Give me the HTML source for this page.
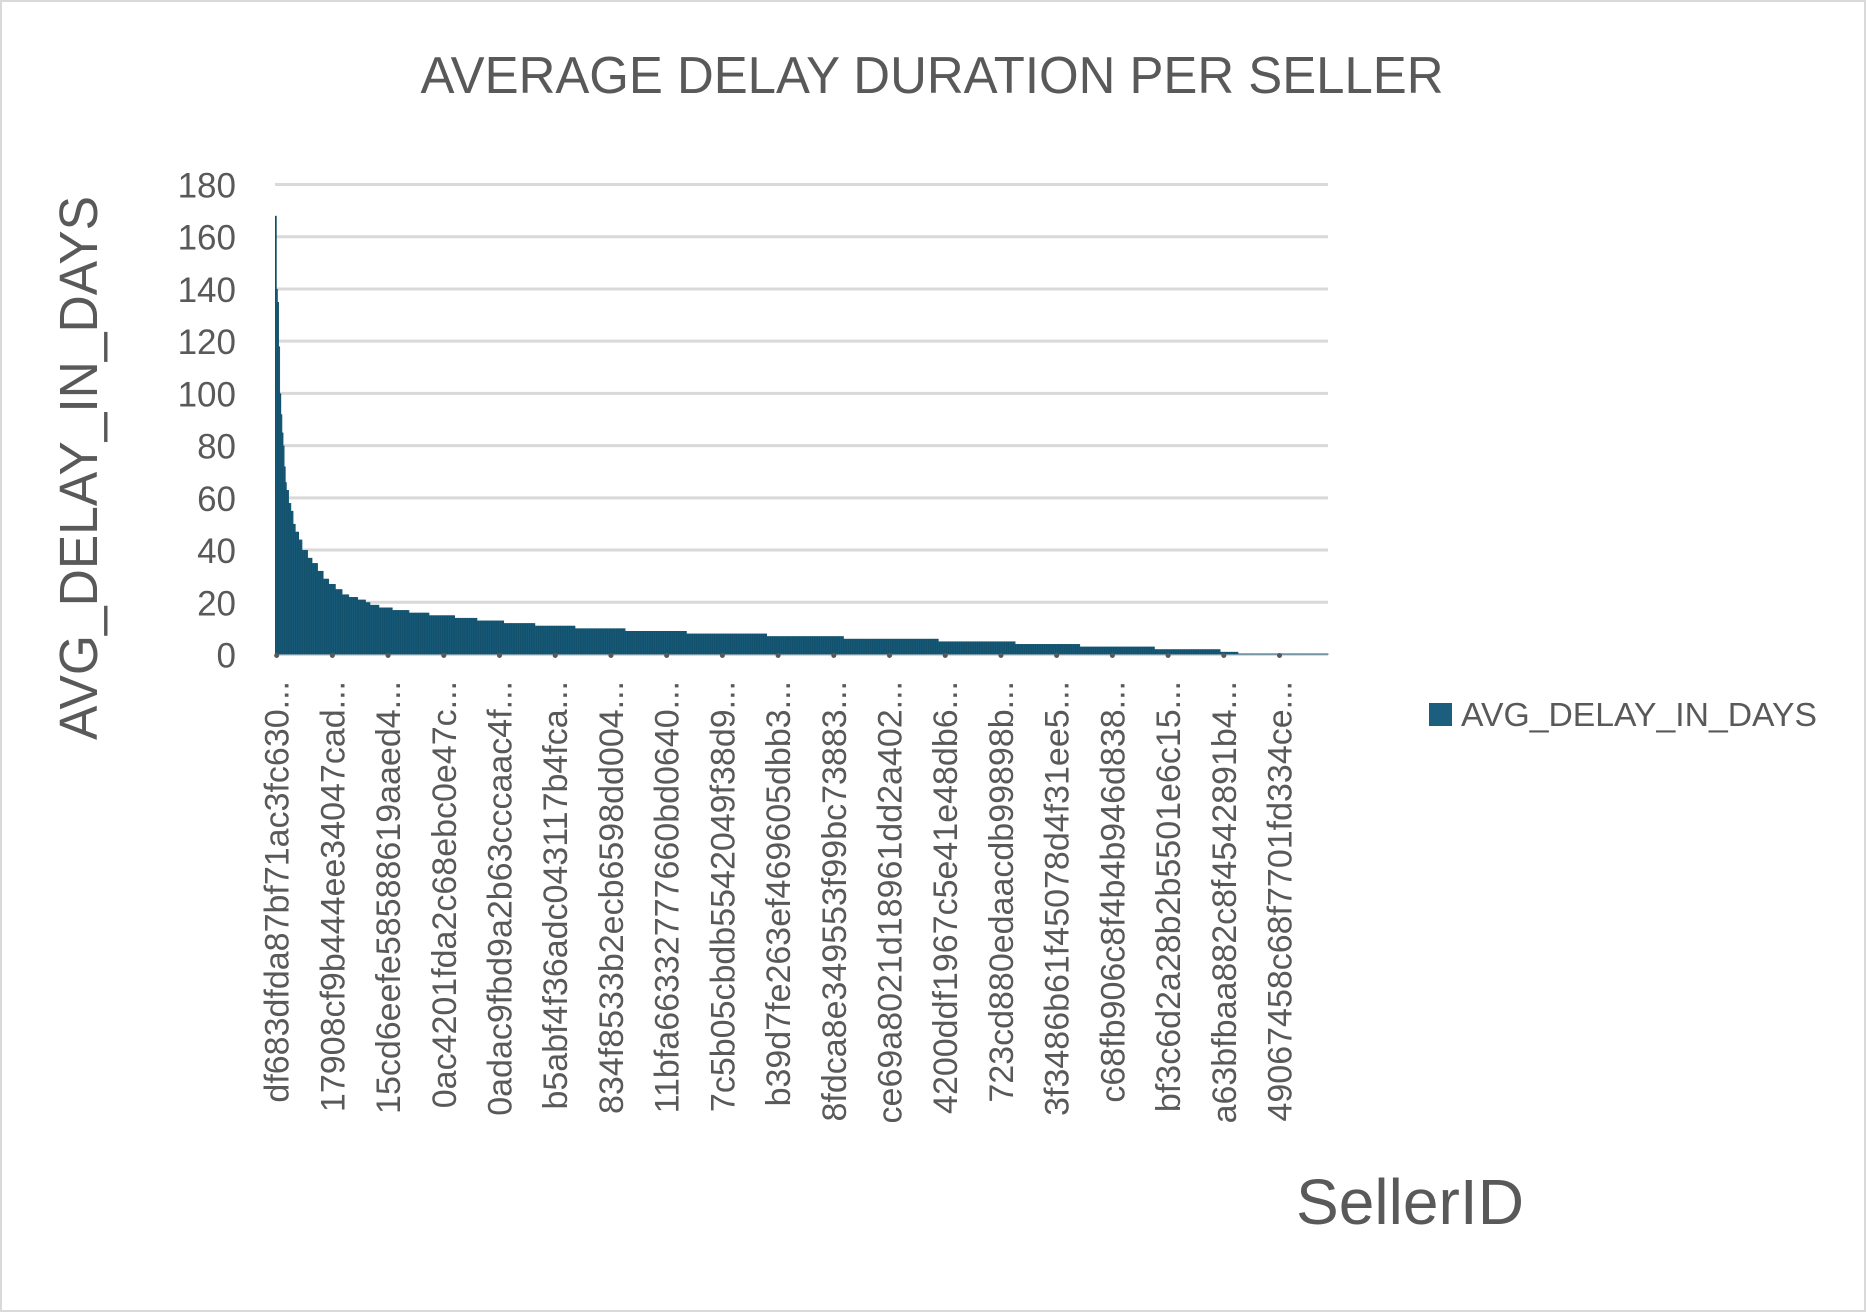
<!DOCTYPE html>
<html><head><meta charset="utf-8">
<style>
html,body{margin:0;padding:0;background:#fff;}
svg{display:block;}
text{font-family:"Liberation Sans Narrow","Liberation Sans",sans-serif;}
</style></head>
<body>
<svg id="chart" width="1866" height="1312" viewBox="0 0 1866 1312" xmlns="http://www.w3.org/2000/svg">
<rect x="1" y="1" width="1864" height="1310" fill="#fff" stroke="#d9d9d9" stroke-width="2"/>
<text x="932" y="93" text-anchor="middle" font-size="52" fill="#595959" textLength="1023" lengthAdjust="spacingAndGlyphs">AVERAGE DELAY DURATION PER SELLER</text>
<text transform="translate(97,468) rotate(-90)" text-anchor="middle" font-size="54" fill="#595959" textLength="544" lengthAdjust="spacingAndGlyphs">AVG_DELAY_IN_DAYS</text>
<text x="1410" y="1224" text-anchor="middle" font-size="64" fill="#595959" textLength="228" lengthAdjust="spacingAndGlyphs">SellerID</text>
<g>
<rect x="1429" y="703" width="23" height="23" fill="#1b5e7d"/>
<text x="1461" y="726" font-size="33" fill="#595959" textLength="356" lengthAdjust="spacingAndGlyphs">AVG_DELAY_IN_DAYS</text>
</g>
<g id="grid"></g><g id="bars"></g><g id="axis"></g>
</svg>
<script>
const yTicks = [0,20,40,60,80,100,120,140,160,180];
const runValues = [168,140,135,118,100,92,85,80,72,66,63,58,55,50,47,44,40,37,35,32,29,27,25,23,22,21,20,19,18,17,16,15,14,13,12,11,10,9,8,7,6,5,4,3,2,1,0.3];
const runCounts = [1,1,1,1,1,1,1,1,1,1,2,2,2,2,3,3,5,4,5,5,5,6,6,6,8,7,4,8,12,15,18,23,20,24,28,36,45,55,72,69,85,69,58,67,59,16,81];
const xLabels = ["df683dfda87bf71ac3fc630...","17908cf9b444ee34047cad...","15cd6eefe58588619aaed4...","0ac4201fda2c68ebc0e47c...","0adac9fbd9a2b63cccaac4f...","b5abf4f36adc043117b4fca...","834f8533b2ecb6598dd004...","11bfa66332777660bd0640...","7c5b05cbdb5542049f38d9...","b39d7fe263ef469605dbb3...","8fdca8e349553f99bc73883...","ce69a8021d18961dd2a402...","4200ddf1967c5e41e48db6...","723cd880edaacdb99898b...","3f3486b61f45078d4f31ee5...","c68fb906c8f4b4b946d838...","bf3c6d2a28b2b5501e6c15...","a63bfbaa882c8f4542891b4...","49067458c68f7701fd334ce..."];
const labelEvery = 50, labelStart = 1;

const NS="http://www.w3.org/2000/svg";
const L=275,R=1328,T=184.5,B=654.5,YMAX=180;
const values=[];
for(let i=0;i<runValues.length;i++){for(let k=0;k<runCounts[i];k++)values.push(runValues[i]);}
const N=values.length;
const bw=(R-L)/N;
const y=v=>B-(v/YMAX)*(B-T);
const x=i=>L+i*bw;
const grid=document.getElementById('grid'),bars=document.getElementById('bars'),axis=document.getElementById('axis');
yTicks.forEach(t=>{
  const ln=document.createElementNS(NS,'line');
  
  
  ln.setAttribute('x1',L);ln.setAttribute('x2',R);ln.setAttribute('y1',y(t));ln.setAttribute('y2',y(t));
  ln.setAttribute('stroke','#d9d9d9');ln.setAttribute('stroke-width','3');
  grid.appendChild(ln);
  const tx=document.createElementNS(NS,'text');
  
  
  tx.setAttribute('x',236);tx.setAttribute('y',y(t)+13);tx.setAttribute('text-anchor','end');
  tx.setAttribute('font-size','35');tx.setAttribute('fill','#595959');
  tx.setAttribute('style','font-family:"Liberation Sans",sans-serif');
  tx.textContent=t;axis.appendChild(tx);
});
values.forEach((v,i)=>{
  const r=document.createElementNS(NS,'rect');
  
  
  r.setAttribute('x',x(i));r.setAttribute('width',bw+0.6);
  r.setAttribute('y',y(v));r.setAttribute('height',B-y(v));
  r.setAttribute('fill',i%2?'#175a78':'#12506b');
  bars.appendChild(r);
});
xLabels.forEach((lab,j)=>{
  const idx=labelStart+j*labelEvery;
  const cx=x(idx)+bw/2;
  const d=document.createElementNS(NS,'circle');
  
  
  d.setAttribute('cx',cx);d.setAttribute('cy',B+1);d.setAttribute('r','2.5');d.setAttribute('fill','#595959');
  axis.appendChild(d);
  const tx=document.createElementNS(NS,'text');
  
  
  tx.setAttribute('transform','translate('+(cx+12)+',681) rotate(-90)');
  tx.setAttribute('text-anchor','end');tx.setAttribute('font-size','34');tx.setAttribute('fill','#595959');
  tx.setAttribute('style','font-family:"Liberation Sans",sans-serif');
  tx.textContent=lab;axis.appendChild(tx);
});
</script>
</body></html>
